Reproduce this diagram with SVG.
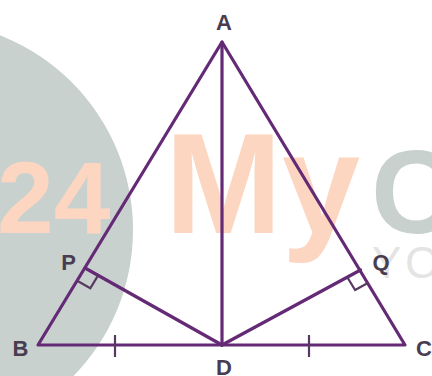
<svg xmlns="http://www.w3.org/2000/svg" width="432" height="376" viewBox="0 0 432 376">
<style>
.ln{stroke:#642a76;stroke-width:3.2;fill:none;stroke-linecap:round;stroke-linejoin:round}
.mk{stroke:#573a62;stroke-width:2.2;fill:none}
.lb{font-family:"Liberation Sans",Arial,sans-serif;font-weight:bold;font-size:22px;fill:#483d50}
.wm{font-family:"Liberation Sans",Arial,sans-serif;font-weight:bold}
</style>
<rect width="432" height="376" fill="#ffffff"/>
<g id="watermark">
<circle cx="-76" cy="230" r="209" fill="#c9d1ce"/>
<text class="wm" x="-3" y="233" font-size="102" fill="#fdd6c1">24</text>
<text class="wm" x="165" y="233" font-size="143" fill="#fdd6c1" textLength="195" lengthAdjust="spacingAndGlyphs">My</text>
<text class="wm" x="371" y="233" font-size="118" fill="#c9d1ce">C</text>
<text x="372" y="278" font-family="Liberation Sans,Arial,sans-serif" font-size="44" fill="#e4e4e4" letter-spacing="4">YO</text>
</g>
<g id="connectors">
<polygon class="ln" points="222,42 38,345 405,345"/>
<line class="ln" x1="222" y1="42" x2="222" y2="345"/>
<line class="ln" x1="85" y1="268" x2="222" y2="345"/>
<line class="ln" x1="360.5" y1="270" x2="222" y2="345"/>
<line class="mk" x1="115" y1="335" x2="115" y2="357"/>
<line class="mk" x1="309" y1="335" x2="309" y2="357"/>
<polyline class="mk" points="77.2,280.8 90.3,288.2 98.1,275.4"/>
<polyline class="mk" points="368.3,282.8 355.1,290 347.3,277.2"/>
</g>
<g id="node-A"><text class="lb" x="224" y="30" text-anchor="middle">A</text></g>
<g id="node-B"><text class="lb" x="20.5" y="356" text-anchor="middle">B</text></g>
<g id="node-C"><text class="lb" x="424" y="356" text-anchor="middle">C</text></g>
<g id="node-D"><text class="lb" x="224" y="375" text-anchor="middle">D</text></g>
<g id="node-P"><text class="lb" x="68.5" y="270" text-anchor="middle">P</text></g>
<g id="node-Q"><text class="lb" x="381" y="270" text-anchor="middle">Q</text></g>
</svg>
